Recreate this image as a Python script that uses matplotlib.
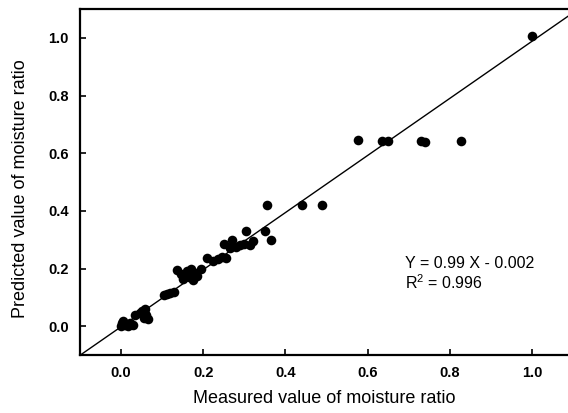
import matplotlib
matplotlib.use("Agg")
import matplotlib.pyplot as plt
import numpy as np

# measured vs predicted moisture ratio
measured = [0.000, 0.003, 0.005, 0.010, 0.017, 0.022, 0.030, 0.035, 0.045, 0.050,
            0.055, 0.060, 0.065, 0.058, 0.105, 0.112, 0.120, 0.130, 0.135, 0.145,
            0.150, 0.160, 0.165, 0.170, 0.175, 0.180, 0.185, 0.195, 0.210, 0.225,
            0.235, 0.245, 0.250, 0.255, 0.265, 0.270, 0.280, 0.290, 0.300, 0.305,
            0.315, 0.320, 0.350, 0.355, 0.365, 0.440, 0.490, 0.577, 0.635, 0.650,
            0.730, 0.740, 0.827, 1.000]
predicted = [0.000, 0.010, 0.018, 0.005, 0.000, 0.012, 0.003, 0.040, 0.045, 0.052,
             0.030, 0.040, 0.025, 0.058, 0.108, 0.112, 0.115, 0.118, 0.195, 0.180,
             0.165, 0.190, 0.170, 0.200, 0.160, 0.185, 0.175, 0.200, 0.235, 0.225,
             0.232, 0.240, 0.285, 0.235, 0.270, 0.300, 0.275, 0.280, 0.285, 0.330,
             0.280, 0.295, 0.330, 0.420, 0.300, 0.420, 0.420, 0.645, 0.643, 0.643,
             0.643, 0.640, 0.643, 1.005]

slope = 0.99
intercept = -0.002
r2 = 0.996

xticks = [0.0, 0.2, 0.4, 0.6, 0.8, 1.0]
yticks = [0.0, 0.2, 0.4, 0.6, 0.8, 1.0]

plt.rcParams['font.family'] = ['Liberation Sans', 'DejaVu Sans']

fig = plt.figure(figsize=(5.68, 4.13), dpi=100)
ax = fig.add_axes([0.1408, 0.1404, 0.8592, 0.8376])

xs = np.array([-0.1, 1.1])
ax.plot(xs, slope * xs + intercept, color='black', lw=1.0, zorder=2)
ax.scatter(measured, predicted, s=48, color='black', zorder=3, linewidths=0)

ax.set_xlim(-0.1, 1.088)
ax.set_ylim(-0.1, 1.1)
ax.set_xticks(xticks)
ax.set_yticks(yticks)
ax.set_xticklabels(['%.1f' % t for t in xticks], fontsize=10.5, fontweight='bold')
ax.set_yticklabels(['%.1f' % t for t in yticks], fontsize=10.5, fontweight='bold')
ax.tick_params(direction='in', length=4, width=1.2, pad=8)

for s in ['left', 'bottom', 'top']:
    ax.spines[s].set_linewidth(1.6)
ax.spines['right'].set_visible(False)

ax.set_xlabel('Measured value of moisture ratio', fontsize=13, labelpad=7)
ax.set_ylabel('Predicted value of moisture ratio', fontsize=13)
ax.yaxis.set_label_coords(-0.105, 0.48)

ax.text(0.69, 0.217, 'Y = %.2f X - %.3f' % (slope, -intercept), fontsize=11.5, va='center')
ax.text(0.69, 0.152, '$\\mathregular{R^2}$ = %.3f' % r2, fontsize=11.5, va='center')

fig.savefig('out.png', dpi=100)
